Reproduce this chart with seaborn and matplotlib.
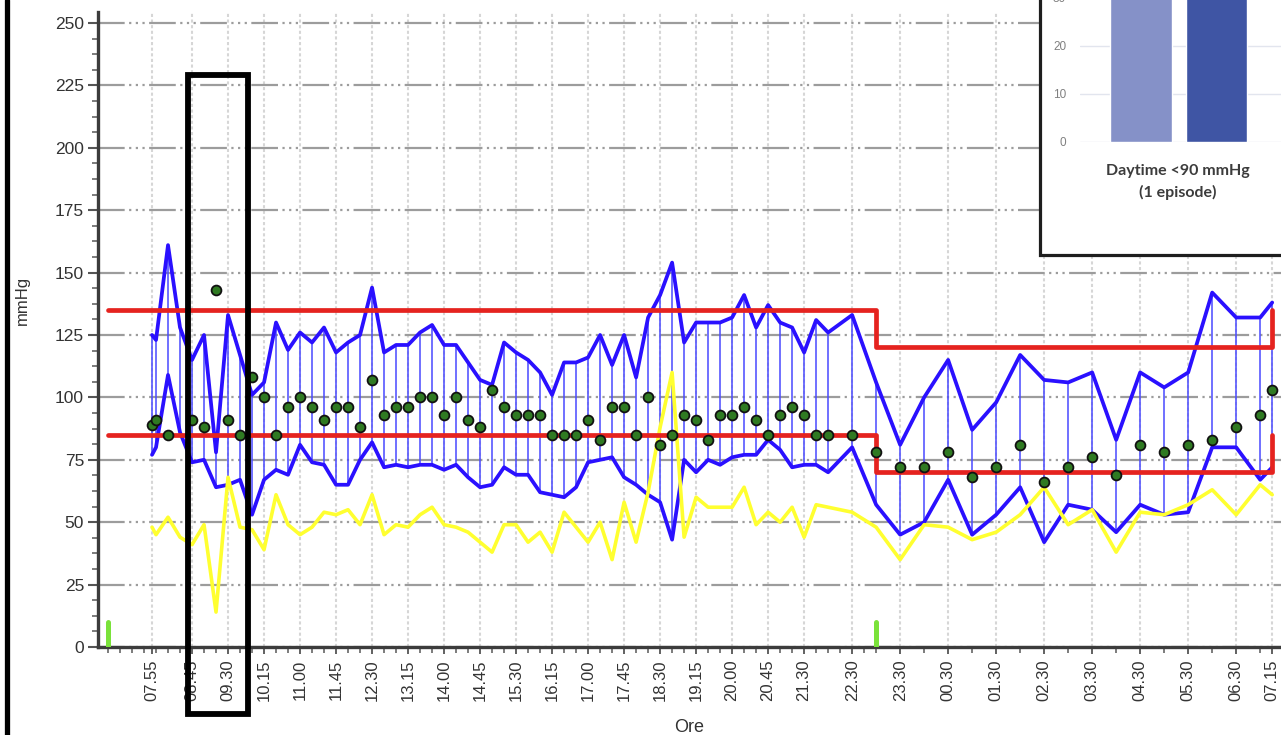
import numpy as np
import pandas as pd
import seaborn as sns
import matplotlib.pyplot as plt
from matplotlib.patches import Rectangle
from matplotlib.lines import Line2D
from matplotlib.ticker import FixedLocator

# orari delle misurazioni (giorno + notte)
orari = ["07:55", "08:00", "08:15", "08:30", "08:45", "09:00", "09:15", "09:30", "09:45", "10:00",
         "10:15", "10:30", "10:45", "11:00", "11:15", "11:30", "11:45", "12:00", "12:15", "12:30",
         "12:45", "13:00", "13:15", "13:30", "13:45", "14:00", "14:15", "14:30", "14:45", "15:00",
         "15:15", "15:30", "15:45", "16:00", "16:15", "16:30", "16:45", "17:00", "17:15", "17:30",
         "17:45", "18:00", "18:15", "18:30", "18:45", "19:00", "19:15", "19:30", "19:45", "20:00",
         "20:15", "20:30", "20:45", "21:00", "21:15", "21:30", "21:45", "22:00", "22:30", "23:00",
         "23:30", "00:00", "00:30", "01:00", "01:30", "02:00", "02:30", "03:00", "03:30", "04:00",
         "04:30", "05:00", "05:30", "06:00", "06:30", "07:00", "07:15"]

sistolica = [125, 123, 161, 128, 115, 125, 78, 133, 117, 101,
             106, 130, 119, 126, 122, 128, 118, 122, 125, 144,
             118, 121, 121, 126, 129, 121, 121, 114, 107, 105,
             122, 118, 115, 110, 101, 114, 114, 116, 125, 113,
             125, 108, 132, 141, 154, 122, 130, 130, 130, 132,
             141, 128, 137, 130, 128, 118, 131, 126, 133, 106,
             81, 100, 115, 87, 98, 117, 107, 106, 110, 83,
             110, 104, 110, 142, 132, 132, 138]

diastolica = [77, 80, 109, 86, 74, 75, 64, 65, 67, 53,
              67, 71, 69, 81, 74, 73, 65, 65, 75, 82,
              72, 73, 72, 73, 73, 71, 73, 68, 64, 65,
              72, 69, 69, 62, 61, 60, 64, 74, 75, 76,
              68, 65, 61, 58, 43, 75, 70, 75, 73, 76,
              77, 77, 83, 79, 72, 73, 73, 70, 80, 57,
              45, 50, 67, 45, 53, 64, 42, 57, 55, 46,
              57, 53, 54, 80, 80, 67, 72]

media = [89, 91, 85, np.nan, 91, 88, 143, 91, 85, 108,
         100, 85, 96, 100, 96, 91, 96, 96, 88, 107,
         93, 96, 96, 100, 100, 93, 100, 91, 88, 103,
         96, 93, 93, 93, 85, 85, 85, 91, 83, 96,
         96, 85, 100, 81, 85, 93, 91, 83, 93, 93,
         96, 91, 85, 93, 96, 93, 85, 85, 85, 78,
         72, 72, 78, 68, 72, 81, 66, 72, 76, 69,
         81, 78, 81, 83, 88, 93, 103]

frequenza = [48, 45, 52, 44, 41, 49, 14, 68, 48, 47,
             39, 61, 49, 45, 48, 54, 53, 55, 49, 61,
             45, 49, 48, 53, 56, 49, 48, 46, 42, 38,
             49, 49, 42, 46, 38, 54, 48, 42, 50, 35,
             58, 42, 62, 88, 110, 44, 60, 56, 56, 56,
             64, 49, 54, 50, 56, 44, 57, 56, 54, 48,
             35, 49, 48, 43, 46, 53, 64, 49, 55, 38,
             54, 53, 57, 63, 53, 65, 61]

etichette = ["07.55", "08.45", "09.30", "10.15", "11.00", "11.45", "12.30", "13.15", "14.00",
             "14.45", "15.30", "16.15", "17.00", "17.45", "18.30", "19.15", "20.00", "20.45",
             "21.30", "22.30", "23.30", "00.30", "01.30", "02.30", "03.30", "04.30", "05.30",
             "06.30", "07.15"]

# soglie giorno / notte
soglie_orari = ["07:00", "23:00", "07:15"]
soglie_sis = [135, 120, 135]
soglie_dia = [85, 70, 85]
inizio_periodi = ["07:00", "23:00"]

# riquadro episodi (le barre escono dal riquadro in alto)
episodi_cat = ["a", "b"]
episodi_val = [40, 42]


def in_minuti(lista):
    out, giorno, prec = [], 0, -1
    for o in lista:
        h, m = o.replace(".", ":").split(":")
        t = int(h) * 60 + int(m)
        if t < prec:
            giorno += 1
        prec = t
        out.append(t + 1440 * giorno)
    return out


df = pd.DataFrame({"t": in_minuti(orari), "sis": sistolica, "dia": diastolica,
                   "media": media, "fc": frequenza})

sns.set_theme(style="white")
plt.rcParams["font.family"] = ["Liberation Sans", "DejaVu Sans"]

W, H = 1281, 735
fig = plt.figure(figsize=(W / 100, H / 100), dpi=100)
ax = fig.add_axes([98 / W, 88 / H, (W - 98) / W, 635 / H])

blu = "#2a10ff"
ax.vlines(df.t, df.dia, df.sis, color="#4a4aff", lw=1.3, alpha=0.85, zorder=2)
sns.lineplot(data=df, x="t", y="sis", color=blu, lw=2.7, estimator=None, sort=False, ax=ax, zorder=3)
sns.lineplot(data=df, x="t", y="dia", color=blu, lw=2.7, estimator=None, sort=False, ax=ax, zorder=3)
sns.lineplot(data=df, x="t", y="fc", color="#ffff30", lw=2.6, estimator=None, sort=False, ax=ax, zorder=4)

ts = in_minuti(soglie_orari)
ax.plot(ts, soglie_sis, drawstyle="steps-post", color="#e5231f", lw=3.4, zorder=5)
ax.plot(ts, soglie_dia, drawstyle="steps-post", color="#e5231f", lw=3.4, zorder=5)

sns.scatterplot(data=df, x="t", y="media", s=50, color="#2f7a22", edgecolor="#111111",
                linewidth=1.3, ax=ax, zorder=6)

ax.vlines(in_minuti(inizio_periodi), 0, 10, color="#7ae23a", lw=3.6, zorder=6,
          capstyle="round")

# riquadro di evidenza
box = in_minuti(["08:40", "09:55"])
ax.add_patch(Rectangle((box[0], -27), box[1] - box[0], 256, fill=False, ec="black",
                       lw=4.2, clip_on=False, zorder=8))

ax.set_xlim(407.5, 1886)
ax.set_ylim(0, 254.4)
ax.set_yticks(range(0, 251, 25))
ax.yaxis.set_minor_locator(FixedLocator(np.arange(0, 254, 6.25)))
ax.set_xticks(in_minuti(etichette))
ax.set_xticklabels(etichette, rotation=90)
ax.xaxis.set_minor_locator(FixedLocator(list(range(420, 1380, 15)) + list(range(1380, 1890, 30))))

ax.tick_params(axis="y", which="major", length=7, width=1.5, color="#555555",
               labelsize=12.5, labelcolor="#333333", left=True, pad=3)
ax.tick_params(axis="y", which="minor", length=4, width=1.2, color="#666666", left=True)
ax.tick_params(axis="x", which="major", length=5, width=1.3, color="#555555",
               labelsize=12, labelcolor="#333333", bottom=True, pad=4)
ax.tick_params(axis="x", which="minor", length=4, width=1.2, color="#666666", bottom=True)

ax.grid(False)
ax.yaxis.grid(True, color="#9c9c9c", lw=1.6, linestyle=(0, (12, 2, 1, 2, 1, 2, 1, 2)), zorder=0)
ax.xaxis.grid(True, color="#d6d6d6", lw=1.5, linestyle=(0, (1.5, 1.2)), zorder=0)
ax.set_axisbelow(True)

for s in ["top", "right"]:
    ax.spines[s].set_visible(False)
ax.spines["left"].set_color("#3c3c3c")
ax.spines["left"].set_linewidth(2.4)
ax.spines["bottom"].set_color("#3c3c3c")
ax.spines["bottom"].set_linewidth(2.4)

ax.set_xlabel("Ore", fontsize=13, color="#333333")
ax.xaxis.set_label_coords(0.5, -0.113)
ax.set_ylabel("mmHg", fontsize=12, color="#333333")
ax.yaxis.set_label_coords(-0.0575, 0.546)

# bordo sinistro dello screenshot
fig.add_artist(Line2D([7 / W, 7 / W], [0, 1], color="black", lw=3.8))

# pannello con il grafico a barre
fig.add_artist(Rectangle((1040 / W, (H - 255) / H), 0.3, 0.5, transform=fig.transFigure,
                         facecolor="white", edgecolor="#1e1e1e", lw=2.3, zorder=10))
ins = fig.add_axes([1080 / W, (H - 142) / H, 220 / W, 144 / H], zorder=11)
ins.patch.set_alpha(0)
sns.barplot(x=episodi_cat, y=episodi_val, hue=episodi_cat, palette=["#8591c8", "#3f55a4"],
            width=0.82, saturation=1, legend=False, ax=ins)
ins.set_xlim(-0.808, 2.106)
ins.set_ylim(0, 30)
ins.set_yticks([0, 10, 20, 30])
ins.set_xticks([])
ins.set_ylabel("")
ins.yaxis.grid(True, color="#e2e5ee", lw=1.0)
ins.set_axisbelow(True)
ins.tick_params(axis="y", length=0, labelsize=8.5, labelcolor="#808080", pad=10)
for s in ins.spines.values():
    s.set_visible(False)
fig.text(1178 / W, (H - 182) / H, "Daytime <90 mmHg\n(1 episode)", ha="center", va="center",
         fontsize=11.5, fontweight="bold", color="#3c3c3c", linespacing=1.55,
         family=["Lato", "DejaVu Sans"], zorder=12)

fig.savefig("out.png", dpi=100)
